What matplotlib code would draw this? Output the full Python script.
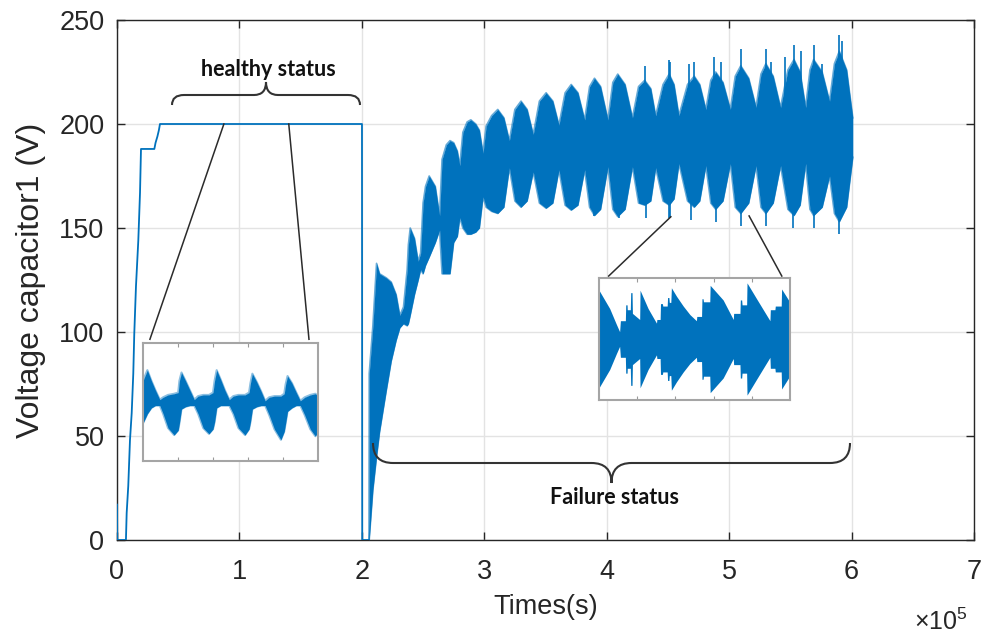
# Capacitor voltage, healthy vs. failure, with two zoom insets
import numpy as np
import matplotlib.pyplot as plt
from matplotlib.path import Path
from matplotlib.patches import PathPatch

plt.rcParams['font.family'] = ['Liberation Sans', 'DejaVu Sans']
plt.rcParams['mathtext.fontset'] = 'custom'
plt.rcParams['mathtext.rm'] = 'Liberation Sans'

BLUE = '#0072BD'
DARK = '#262626'

# ---- data (time in units of 1e5 s, voltage in V) ----
t_healthy = [0.0, 0.002, 0.073, 0.079, 0.092, 0.106, 0.120, 0.133, 0.141, 0.155,
             0.174, 0.188, 0.196, 0.305, 0.315, 0.33, 0.342, 0.351, 2.001, 2.003, 2.058]
v_healthy = [17, 0, 0, 13, 26, 48, 61, 80, 99, 122,
             144, 167, 188, 188, 191, 194, 197, 200, 200, 0, 0]

# envelope of the oscillating signal after the fault
t_fail = [2.058, 2.06, 2.09, 2.12, 2.145, 2.20, 2.24, 2.28, 2.31, 2.34,
          2.37, 2.38, 2.395, 2.43, 2.46, 2.48, 2.50, 2.52, 2.55, 2.60,
          2.635, 2.655, 2.69, 2.72, 2.75, 2.78, 2.80, 2.825, 2.86, 2.89,
          2.93, 2.96, 2.99, 3.015, 3.06, 3.11, 3.16, 3.205, 3.25, 3.30,
          3.35, 3.40, 3.45, 3.505, 3.56, 3.61, 3.66, 3.71, 3.765, 3.82,
          3.86, 3.90, 3.95, 4.01, 4.05, 4.09, 4.15, 4.21, 4.26, 4.31,
          4.36, 4.40, 4.46, 4.51, 4.55, 4.59, 4.66, 4.715, 4.76, 4.81,
          4.85, 4.89, 4.95, 5.01, 5.05, 5.095, 5.16, 5.22, 5.26, 5.30,
          5.36, 5.42, 5.48, 5.53, 5.58, 5.625, 5.66, 5.69, 5.76, 5.82,
          5.86, 5.90, 5.96, 6.01]
v_fail_upper = [0, 80, 103, 133, 128, 126, 124, 118, 108, 112,
                130, 142, 150, 145, 134, 138, 162, 170, 175, 170,
                156, 183, 190, 192, 191, 187, 180, 196, 201, 202,
                200, 197, 186, 199, 204, 207, 203, 192, 207, 211,
                207, 195, 211, 215, 211, 199.5, 215, 219, 215, 202,
                218, 222, 218, 202, 220, 224, 219, 203, 218, 221,
                217, 204, 219, 224, 219, 204, 219, 223, 219, 207,
                221, 225, 220, 207, 223, 228, 222, 208, 224, 229,
                223, 208, 226, 231, 225, 208, 226, 231, 225, 211,
                229, 235, 226, 203]
v_fail_lower = [0, 0, 24, 40, 52, 72, 86, 96, 102, 104,
                103, 104, 108, 118, 125, 130, 128, 132, 136, 143,
                149, 128, 128, 128, 143, 146, 155, 150, 147, 147,
                148, 150, 165, 160, 158, 157, 160, 179, 163, 160,
                163, 177, 162, 159.5, 162, 178, 161, 158.6, 161, 178,
                160, 156, 159, 179.5, 159, 155.5, 159, 179.5, 162, 161,
                163, 179, 163, 161, 164, 181, 163, 160, 163, 180,
                162, 159, 163, 181, 160, 157, 162, 180, 160, 157,
                162, 180, 159, 156, 161, 181, 159, 156, 160, 175,
                157, 153, 160, 184]

# isolated spikes sticking out of the band
up_spike_t = [4.31, 4.51, 4.52, 4.67, 4.71, 4.88, 4.93, 5.095, 5.30, 5.34,
              5.46, 5.53, 5.585, 5.69, 5.76, 5.90, 5.92]
up_spike_v = [228, 231, 230, 229, 230, 232, 230, 236, 236, 230,
              232, 238, 235, 238, 229, 243, 240]
low_spike_t = [3.90, 4.10, 4.32, 4.51, 4.52, 4.69, 4.89, 5.095, 5.30, 5.52, 5.69, 5.90]
low_spike_v = [156, 155, 155, 155, 155, 154, 153, 151, 151, 150, 150, 147]

# inset 1 (healthy zoom), unitless % of box
in1_x = [0, 2.5, 4.8, 7.1, 9.6, 11.5, 14.3, 17.8, 20.1, 20.8,
         22.0, 24.3, 26.8, 29.3, 31.5, 34.4, 37.7, 40.0, 40.9, 42.1,
         44.4, 46.8, 49.3, 51.6, 54.5, 58.3, 60.6, 61.4, 62.5, 65.0,
         67.5, 69.8, 72.1, 75.1, 78.8, 80.7, 81.5, 82.6, 85.1, 87.6,
         89.9, 92.4, 95.6, 98.5, 100]
in1_up = [68, 77, 68, 60, 52, 54, 56, 57, 58, 68,
          75, 68, 60, 52, 55, 56, 56, 58, 68, 77,
          69, 60, 52, 55, 56, 56, 58, 66, 74, 67,
          59, 51, 54, 55, 55, 57, 65, 72, 66, 58,
          51, 54, 56, 57, 55]
in1_low = [32, 40, 45, 47, 47, 40, 28, 22, 26, 32,
           44, 46, 47, 47, 40, 28, 23, 27, 33, 45,
           47, 47, 47, 40, 28, 22, 27, 33, 44, 46,
           47, 47, 39, 27, 18, 25, 32, 42, 45, 47,
           47, 39, 27, 21, 25]

# inset 2 (failure zoom), half-amplitude around the box centre, % of box
in2_x = [0, 5.6, 9.1, 10.8, 11.2, 13.8, 14.0, 14.7, 14.8, 16.4,
         16.6, 17.3, 17.5, 21.3, 21.5, 25.7, 30.1, 30.3, 32.0, 32.2,
         33.2, 33.4, 35.7, 35.9, 36.6, 36.8, 37.6, 37.9, 40.6, 44.1,
         47.6, 51.0, 51.2, 53.7, 53.9, 54.5, 54.7, 58.0, 58.2, 65.0,
         70.3, 70.5, 73.8, 74.0, 74.7, 74.9, 77.3, 77.5, 82.5, 86.0,
         89.5, 89.7, 92.1, 92.3, 95.4, 95.6, 100]
in2_amp = [40, 25, 12, 6, 15, 15, 28, 28, 24, 24,
           38, 38, 21, 16, 40, 25, 13, 16, 16, 29,
           29, 27, 27, 34, 34, 30, 30, 42, 35, 27,
           20, 15, 18.5, 18.5, 33, 33, 30.5, 30.5, 44, 32,
           16, 21, 21, 32, 32, 28, 28, 46, 33, 24,
           15, 24, 24, 27, 27, 41, 30]

x_ticks = [0, 1, 2, 3, 4, 5, 6, 7]
y_ticks = [0, 50, 100, 150, 200, 250]

# ---- figure ----
W, H = 988, 639
fig = plt.figure(figsize=(W / 100, H / 100), dpi=100)
ax = fig.add_axes([117 / W, 1 - 540 / H, 857 / W, 520 / H])

ax.plot(np.array(t_healthy) * 1e5, v_healthy, color=BLUE, lw=1.3, zorder=3)

tf = np.array(t_fail) * 1e5
ax.fill_between(tf, v_fail_lower, v_fail_upper, color=BLUE, lw=0, zorder=3)
ax.plot(tf, v_fail_upper, color=BLUE, lw=1.2, alpha=0.6, zorder=3)
ax.plot(tf, v_fail_lower, color=BLUE, lw=1.2, alpha=0.6, zorder=3)
ax.vlines(np.array(up_spike_t) * 1e5, 205, up_spike_v, color=BLUE, lw=1.2, zorder=3)
ax.vlines(np.array(low_spike_t) * 1e5, low_spike_v, 170, color=BLUE, lw=1.2, zorder=3)

ax.set_xlim(0, 7e5)
ax.set_ylim(0, 250)
ax.set_xticks(np.array(x_ticks) * 1e5)
ax.set_xticklabels([str(v) for v in x_ticks])
ax.set_yticks(y_ticks)
ax.grid(True, color='#e3e3e3', lw=1.0, zorder=0)
ax.set_axisbelow(True)
ax.tick_params(direction='in', top=True, right=True, length=6, width=1,
               colors=DARK, labelsize=19.5)
ax.tick_params(axis='x', pad=14)
ax.tick_params(axis='y', pad=9)
for s in ax.spines.values():
    s.set_color(DARK)
    s.set_linewidth(1.0)
ax.set_xlabel('Times(s)', fontsize=19.5, color=DARK)
ax.xaxis.set_label_coords(0.5, -0.103)
ax.set_ylabel('Voltage capacitor1 (V)', fontsize=23, color=DARK)
ax.yaxis.set_label_coords(-0.083, 0.5)
fig.text(968 / W, 1 - 622 / H, r'$\times10^{5}$', fontsize=18, color=DARK,
         ha='right', va='center')

# connector lines towards the insets (data coords, units of 1e5 s)
for (xa, ya), (xb, yb) in [((0.873, 200), (0.269, 96.5)), ((1.403, 200), (1.568, 96.5)),
                           ((4.524, 155.4), (4.016, 126.9)), ((5.163, 155.8), (5.43, 126.9))]:
    ax.plot([xa * 1e5, xb * 1e5], [ya, yb], color='#2b2b2b', lw=1.1, zorder=4)


def inset(px0, py0, px1, py1):
    a = fig.add_axes([px0 / W, 1 - py1 / H, (px1 - px0) / W, (py1 - py0) / H])
    a.set_xlim(0, 100)
    a.set_ylim(0, 100)
    a.set_xticks([20, 40, 60, 80])
    a.set_yticks([])
    a.tick_params(direction='in', top=True, length=3, width=0.8,
                  colors='#9a9a9a', labelbottom=False)
    for s in a.spines.values():
        s.set_color('#a5a5a5')
        s.set_linewidth(1.5)
    return a


a1 = inset(143, 343, 318, 461)
a1.fill_between(in1_x, in1_low, in1_up, color=BLUE, lw=0)
a1.plot(in1_x, in1_up, color=BLUE, lw=1.5, alpha=0.45)
a1.plot(in1_x, in1_low, color=BLUE, lw=1.5, alpha=0.45)

a2 = inset(599, 278, 790, 400)
amp = np.array(in2_amp)
a2.fill_between(in2_x, 50 - amp, 50 + amp, color=BLUE, lw=0)


def brace(x0, x1, y_end, y_mid, y_tip, r):
    # curly brace in figure pixels (origin top-left)
    xm = (x0 + x1) / 2
    pts = [(x0, y_end), (x0, y_mid), (x0 + r, y_mid), (xm - r, y_mid), (xm, y_mid), (xm, y_tip),
           (xm, y_mid), (xm + r, y_mid), (x1 - r, y_mid), (x1, y_mid), (x1, y_end)]
    codes = [Path.MOVETO, Path.CURVE3, Path.CURVE3, Path.LINETO, Path.CURVE3, Path.CURVE3,
             Path.CURVE3, Path.CURVE3, Path.LINETO, Path.CURVE3, Path.CURVE3]
    verts = [(x / W, 1 - y / H) for x, y in pts]
    fig.add_artist(PathPatch(Path(verts, codes), fill=False, color='#333333', lw=1.5,
                             transform=fig.transFigure))


brace(172, 360, 105, 95, 82, 12)
brace(373, 850, 443, 463, 483, 20)

fig.text(268 / W, 1 - 69 / H, 'healthy status', family=['Lato', 'DejaVu Sans'],
         weight='bold', fontsize=15.5, color='#111111', ha='center', va='center')
fig.text(615 / W, 1 - 498 / H, 'Failure status', family=['Lato', 'DejaVu Sans'],
         weight='bold', fontsize=15.5, color='#111111', ha='center', va='center')

fig.savefig('out.png', dpi=100)
